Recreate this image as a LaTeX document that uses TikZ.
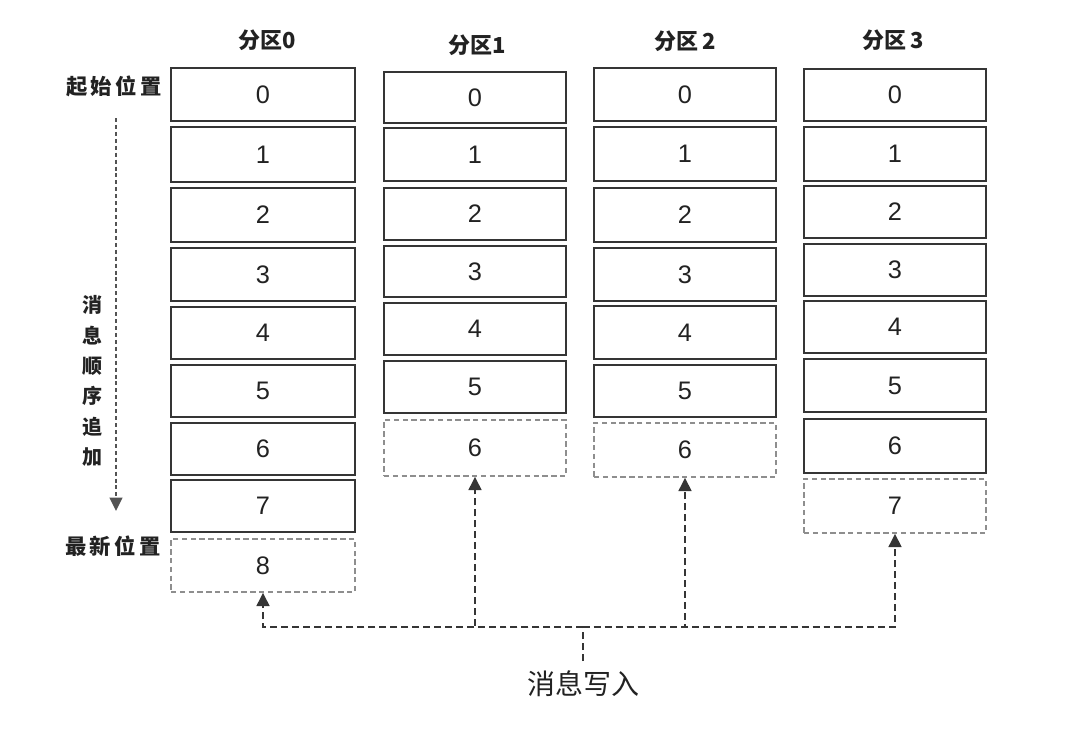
\documentclass[tikz,border=0pt]{standalone}
\usepackage{fontspec}
\setmainfont{Liberation Sans}
\newfontfamily\cjk{Noto Sans CJK SC}
\usetikzlibrary{arrows.meta}
\definecolor{boxline}{HTML}{353535}
\definecolor{ghost}{HTML}{8E8E8E}
\definecolor{txt}{HTML}{222222}
\newcommand\mkcell[7]{\node[#7, minimum width={(#4-#2)*0.75pt-1.5pt}, minimum height={(#5-#3)*0.75pt-1.5pt}] (#1) at ({(#2+#4)/2},{(#3+#5)/2}) {#6};}
\tikzset{
  solidcell/.style={draw=boxline, line width=2.1pt, fill=white, inner sep=0pt, font=\fontsize{19}{19}\selectfont, text=txt},
  ghostcell/.style={draw=ghost, line width=1.1pt, dash pattern=on 4pt off 2.6pt, inner sep=0pt, font=\fontsize{19}{19}\selectfont, text=txt},
  header/.style={font=\cjk\bfseries\fontsize{16.5}{16.5}\selectfont, text=txt, inner sep=0pt},
  sidelabel/.style={font=\cjk\bfseries\fontsize{16}{16}\selectfont, text=txt, inner sep=0pt},
  conn/.style={draw=boxline, line width=1.9pt, dash pattern=on 5.2pt off 3pt},
  ordline/.style={draw=boxline!85!white, line width=1.5pt, dash pattern=on 3pt off 2.2pt},
  tip/.style={-{Triangle[width=9.5pt,length=10pt]}}
}
\begin{document}
\begin{tikzpicture}[x=0.75pt,y=-0.75pt]
\useasboundingbox[fill=white] (0,0) rectangle (1080,742);
% headers
\node[header] (h0) at (267,40) {分区0};
\node[header] (h1) at (477,45) {分区1};
\node[header] (h2) at (685,41) {分区\,2};
\node[header] (h3) at (893,40) {分区\,3};
% partition 0
\mkcell{p0c0}{170}{67}{356}{122}{0}{solidcell}
\mkcell{p0c1}{170}{126}{356}{183}{1}{solidcell}
\mkcell{p0c2}{170}{187}{356}{243}{2}{solidcell}
\mkcell{p0c3}{170}{247}{356}{302}{3}{solidcell}
\mkcell{p0c4}{170}{306}{356}{360}{4}{solidcell}
\mkcell{p0c5}{170}{364}{356}{418}{5}{solidcell}
\mkcell{p0c6}{170}{422}{356}{476}{6}{solidcell}
\mkcell{p0c7}{170}{479}{356}{533}{7}{solidcell}
\mkcell{p0c8}{170}{538}{356}{593}{8}{ghostcell}
% partition 1
\mkcell{p1c0}{383}{71}{567}{124}{0}{solidcell}
\mkcell{p1c1}{383}{127}{567}{182}{1}{solidcell}
\mkcell{p1c2}{383}{187}{567}{241}{2}{solidcell}
\mkcell{p1c3}{383}{245}{567}{298}{3}{solidcell}
\mkcell{p1c4}{383}{302}{567}{356}{4}{solidcell}
\mkcell{p1c5}{383}{360}{567}{414}{5}{solidcell}
\mkcell{p1c6}{383}{419}{567}{477}{6}{ghostcell}
% partition 2
\mkcell{p2c0}{593}{67}{777}{122}{0}{solidcell}
\mkcell{p2c1}{593}{126}{777}{182}{1}{solidcell}
\mkcell{p2c2}{593}{187}{777}{243}{2}{solidcell}
\mkcell{p2c3}{593}{247}{777}{302}{3}{solidcell}
\mkcell{p2c4}{593}{305}{777}{360}{4}{solidcell}
\mkcell{p2c5}{593}{364}{777}{418}{5}{solidcell}
\mkcell{p2c6}{593}{422}{777}{478}{6}{ghostcell}
% partition 3
\mkcell{p3c0}{803}{68}{987}{122}{0}{solidcell}
\mkcell{p3c1}{803}{126}{987}{182}{1}{solidcell}
\mkcell{p3c2}{803}{185}{987}{239}{2}{solidcell}
\mkcell{p3c3}{803}{243}{987}{297}{3}{solidcell}
\mkcell{p3c4}{803}{300}{987}{354}{4}{solidcell}
\mkcell{p3c5}{803}{358}{987}{413}{5}{solidcell}
\mkcell{p3c6}{803}{418}{987}{474}{6}{solidcell}
\mkcell{p3c7}{803}{478}{987}{534}{7}{ghostcell}
% side labels
\node[sidelabel] (start) at (114,86) {起\,始\,位\,置};
\node[sidelabel] (latest) at (113,546) {最\,新\,位\,置};
\node[font=\cjk\bfseries\fontsize{15}{22.8}\selectfont, text=txt, align=center, inner sep=0pt] (order) at (92,381) {消\\息\\顺\\序\\追\\加};
\coordinate (ordtop) at (116,118);
\coordinate (ordbot) at (116,511);
\draw[ordline, tip] (ordtop) -- (ordbot);
% message write
\node[font=\cjk\fontsize{21}{21}\selectfont, text=txt, anchor=north, inner sep=0pt] (msg) at (583,670) {消息写入};
\coordinate (bus) at (583,627);
\coordinate (src) at (583,661);
\draw[conn] (src) -- (bus);
\draw[conn, tip] (bus) -| (p0c8.south);
\draw[conn, tip] (bus) -| (p1c6.south);
\draw[conn, tip] (bus) -| (p2c6.south);
\draw[conn, tip] (bus) -| (p3c7.south);
\end{tikzpicture}
\end{document}
